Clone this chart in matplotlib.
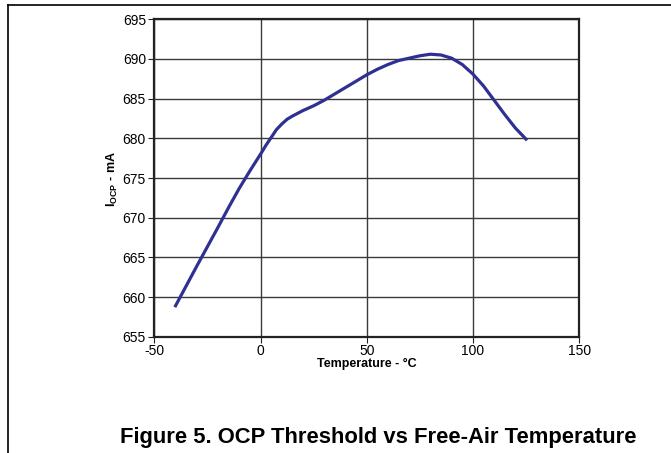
import matplotlib
matplotlib.use("Agg")
import matplotlib.pyplot as plt
from matplotlib.lines import Line2D

# temperature (degC) and OCP threshold (mA)
temp = [-40, -30, -20, -15, -10, -5, 0, 2.5, 5, 7.5, 10, 12.5, 15, 20, 25, 30, 35, 40,
        45, 50, 55, 60, 65, 70, 75, 80, 85, 90, 95, 100, 105, 110, 115, 120, 125]
i_ocp = [658.9, 663.9, 668.8, 671.3, 673.7, 675.9, 678.0, 679.1, 680.1, 681.1, 681.8,
         682.4, 682.8, 683.5, 684.1, 684.8, 685.6, 686.4, 687.2, 688.0, 688.7, 689.3,
         689.8, 690.1, 690.4, 690.6, 690.5, 690.1, 689.3, 688.1, 686.6, 684.8, 683.0,
         681.3, 679.9]

x_ticks = [-50, 0, 50, 100, 150]
y_ticks = [655, 660, 665, 670, 675, 680, 685, 690, 695]

plt.rcParams["font.family"] = ["Liberation Sans", "DejaVu Sans"]
plt.rcParams["axes.unicode_minus"] = False
plt.rcParams["mathtext.fontset"] = "custom"
plt.rcParams["mathtext.rm"] = "Liberation Sans"
plt.rcParams["mathtext.bf"] = "Liberation Sans:bold"

fig = plt.figure(figsize=(6.71, 4.53), dpi=100)
ax = fig.add_axes([0.230, 0.2567, 0.633, 0.7007])

ax.plot(temp, i_ocp, color="#2E3192", lw=2.3, solid_joinstyle="round", zorder=3)

ax.set_xlim(-50, 150)
ax.set_ylim(655, 695)
ax.set_xticks(x_ticks)
ax.set_yticks(y_ticks)
ax.grid(True, color="#3a3a3a", lw=1.0)
ax.tick_params(direction="out", length=4, width=0.8, labelsize=10, pad=2,
               color="#222222")
ax.tick_params(axis="x", pad=1)
for side in ax.spines.values():
    side.set_color("#222222")
    side.set_linewidth(1.6)

fig.text(0.168, 0.605, r"$\mathbf{I}_{\mathbf{OCP}}$ - mA", rotation=90,
         ha="center", va="center", fontsize=9, fontweight="bold")
fig.text(0.5465, 1 - 364 / 453, "Temperature - °C", ha="center", va="center",
         fontsize=9, fontweight="bold")
fig.text(378 / 671, 1 - 437 / 453, "Figure 5. OCP Threshold vs Free-Air Temperature",
         ha="center", va="center", fontsize=15.8, fontweight="bold")

# page border lines
fig.add_artist(Line2D([8 / 671, 1], [1 - 5 / 453, 1 - 5 / 453], color="black", lw=1.2))
fig.add_artist(Line2D([8 / 671, 8 / 671], [0, 1 - 5 / 453], color="black", lw=1.2))

fig.savefig("out.png", dpi=100)
